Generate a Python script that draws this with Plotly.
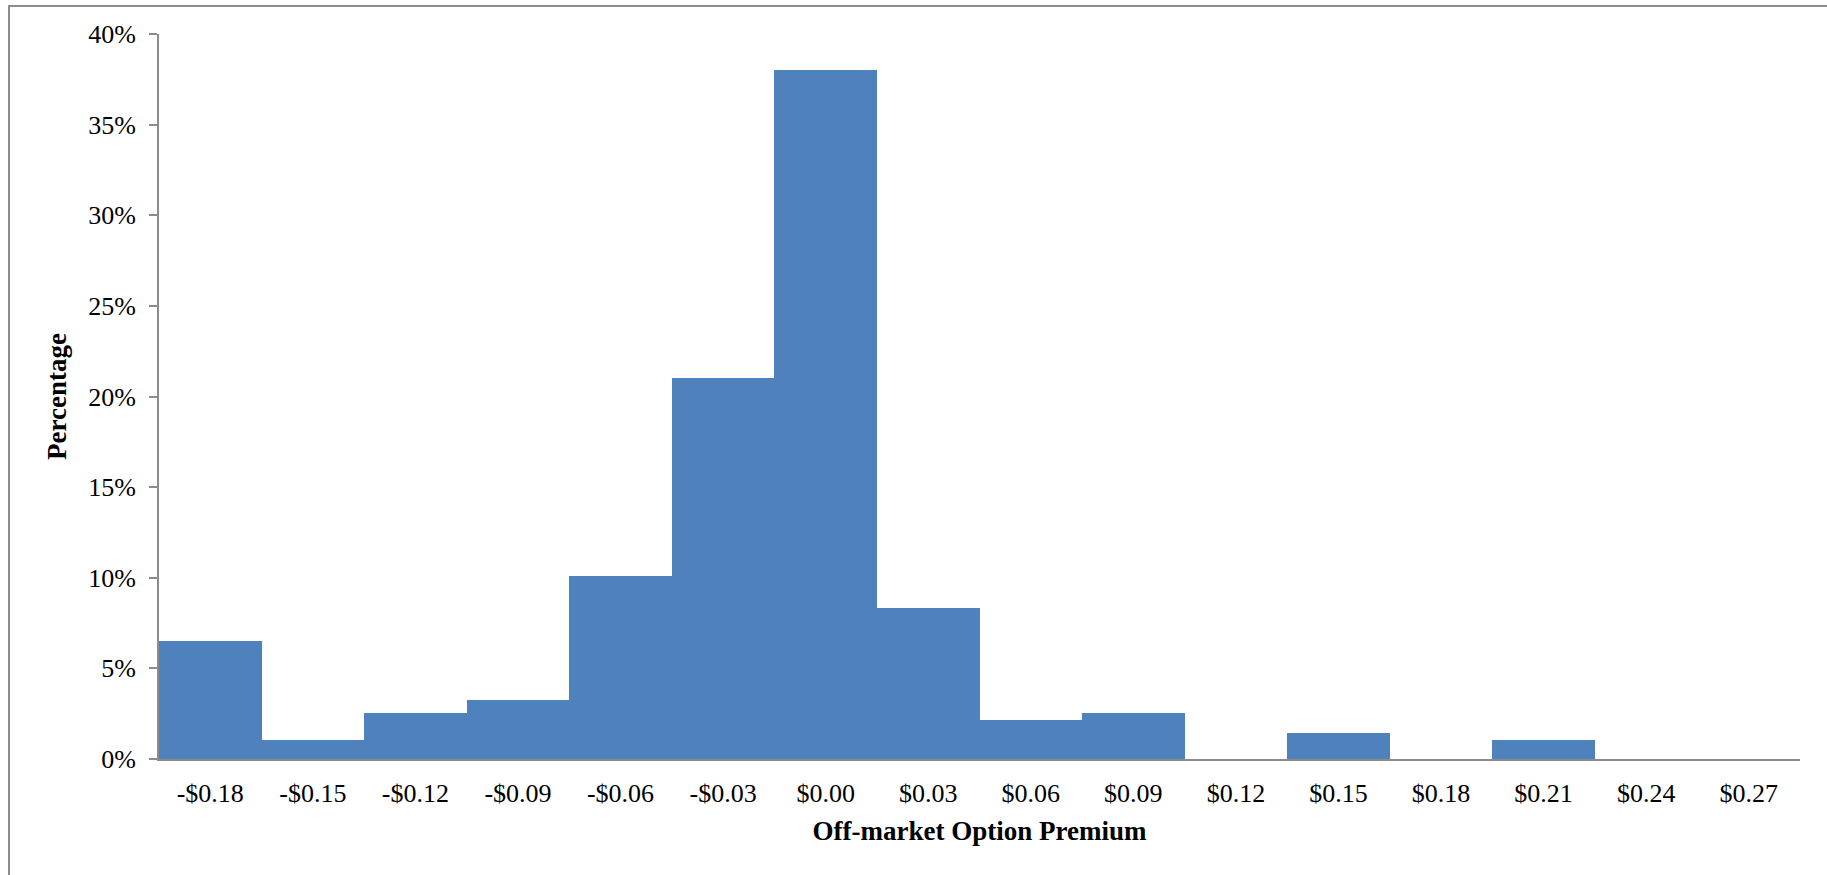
import plotly.graph_objects as go

# Histogram of off-market option premiums (share of observations per $0.03 bin)
bin_labels = ["-$0.18", "-$0.15", "-$0.12", "-$0.09", "-$0.06", "-$0.03", "$0.00", "$0.03",
              "$0.06", "$0.09", "$0.12", "$0.15", "$0.18", "$0.21", "$0.24", "$0.27"]
share = [0.065, 0.0107, 0.0252, 0.0323, 0.101, 0.210, 0.380, 0.0832,
         0.0215, 0.0252, 0.0, 0.0142, 0.0, 0.0105, 0.0, 0.0]

W, H = 1827, 875
L, R, T, B = 159, 27, 34, 116
pw = W - L - R
ph = H - T - B

fig = go.Figure(go.Bar(
    x=bin_labels, y=share,
    marker=dict(color="#4F81BD", line=dict(width=0)),
    hoverinfo="x+y",
))

serif = "Liberation Serif"
fig.update_layout(
    width=W, height=H,
    margin=dict(l=L, r=R, t=T, b=B),
    paper_bgcolor="white", plot_bgcolor="white",
    bargap=0, showlegend=False,
    font=dict(family=serif, color="black", size=26),
)
fig.update_xaxes(
    type="category", range=[-0.5, len(bin_labels) - 0.5],
    showline=True, linecolor="#8c8c8c", linewidth=2,
    showgrid=False, ticks="", ticklabelstandoff=10,
    tickfont=dict(family=serif, size=26, color="black"),
    title=dict(text="<b>Off-market Option Premium</b>", standoff=14,
               font=dict(family=serif, size=27, color="black")),
)
fig.update_yaxes(
    range=[0, 0.40], dtick=0.05, tickformat=".0%",
    showline=True, linecolor="#8c8c8c", linewidth=2,
    showgrid=False, zeroline=False,
    ticks="outside", ticklen=8, tickcolor="#8c8c8c", tickwidth=2,
    ticklabelstandoff=8,
    tickfont=dict(family=serif, size=26, color="black"),
    title=dict(text="<b>Percentage</b>", standoff=14,
               font=dict(family=serif, size=27, color="black")),
)

# outer chart frame (left and top edges visible)
fig.add_shape(type="rect", xref="paper", yref="paper",
              x0=(9 - L) / pw, x1=(W + 20 - L) / pw,
              y0=-(H + 20 - T - ph) / ph, y1=(H - 6 - B) / ph,
              line=dict(color="#8c8c8c", width=2), fillcolor="rgba(0,0,0,0)",
              layer="below")

fig.write_html("out.html")
